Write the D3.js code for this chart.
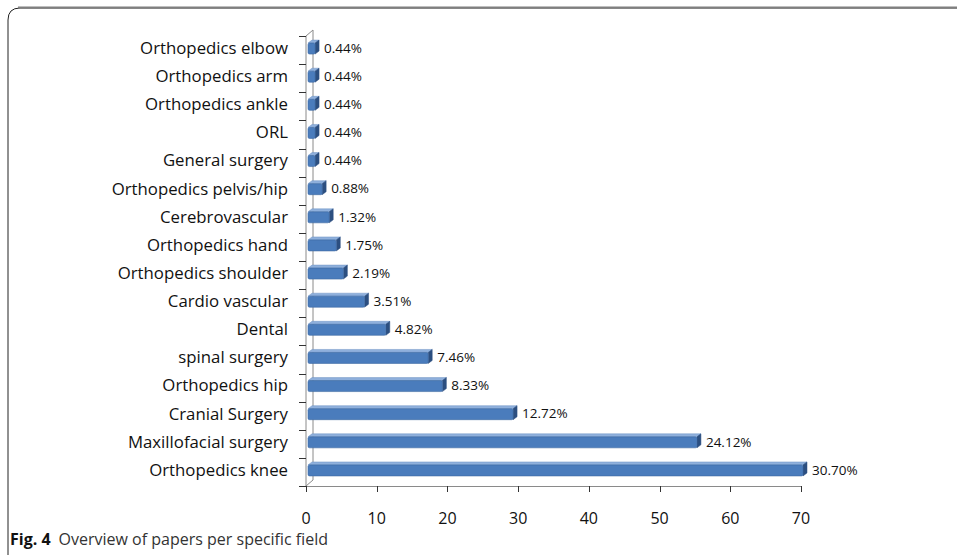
<!DOCTYPE html>
<html>
<head>
<meta charset="utf-8">
<script src="https://cdnjs.cloudflare.com/ajax/libs/d3/7.8.5/d3.min.js"></script>
<style>
  body { margin: 0; background: #fff; }
  svg { display: block; }
</style>
</head>
<body>
<svg id="chart" width="957" height="555"></svg>
<script>
// data, top row first
var categories = ["Orthopedics elbow", "Orthopedics arm", "Orthopedics ankle", "ORL", "General surgery",
  "Orthopedics pelvis/hip", "Cerebrovascular", "Orthopedics hand", "Orthopedics shoulder", "Cardio vascular",
  "Dental", "spinal surgery", "Orthopedics hip", "Cranial Surgery", "Maxillofacial surgery", "Orthopedics knee"];
var counts = [1, 1, 1, 1, 1, 2, 3, 4, 5, 8, 11, 17, 19, 29, 55, 70];
var percentLabels = ["0.44%", "0.44%", "0.44%", "0.44%", "0.44%", "0.88%", "1.32%", "1.75%", "2.19%",
  "3.51%", "4.82%", "7.46%", "8.33%", "12.72%", "24.12%", "30.70%"];
var xTicks = [0, 10, 20, 30, 40, 50, 60, 70];

var svg = d3.select("#chart");

// figure frame
svg.append("path")
  .attr("d", "M8,555 L8,20 Q8,8 20,8 L957,8")
  .attr("fill", "none").attr("stroke", "#222").attr("stroke-width", 1);
svg.append("line")
  .attr("x1", 18).attr("x2", 957).attr("y1", 7.5).attr("y2", 7.5)
  .attr("stroke", "#7f7f7f").attr("stroke-width", 2);

var x = d3.scaleLinear().domain([0, 70]).range([306, 801]);
var y = d3.scaleBand().domain(categories).range([36, 486]);

var dx = 7, dy = 6;   // depth of the 3d wall
var axisCol = "#8a8a8a";

// back wall
var g3 = svg.append("g");
g3.append("line").attr("x1", x(0) + dx).attr("x2", x(0) + dx)
  .attr("y1", 36 - dy).attr("y2", 486 - dy).attr("stroke", axisCol);
g3.append("line").attr("x1", x(0)).attr("x2", x(0) + dx)
  .attr("y1", 36).attr("y2", 36 - dy).attr("stroke", axisCol);
g3.append("line").attr("x1", x(0)).attr("x2", x(0) + dx)
  .attr("y1", 486).attr("y2", 486 - dy).attr("stroke", axisCol);

// y axis (ticks at band edges)
var yAx = svg.append("g");
yAx.append("line").attr("x1", x(0)).attr("x2", x(0)).attr("y1", 36).attr("y2", 486).attr("stroke", axisCol);
yAx.selectAll("line.tk")
  .data(d3.range(categories.length + 1))
  .enter().append("line")
  .attr("class", "tk")
  .attr("x1", x(0) - 7).attr("x2", x(0))
  .attr("y1", function(i) { return Math.round(36 + i * y.step()) + 0.5; })
  .attr("y2", function(i) { return Math.round(36 + i * y.step()) + 0.5; })
  .attr("stroke", "#333");

yAx.selectAll("text")
  .data(categories)
  .enter().append("text")
  .attr("x", 288)
  .attr("y", function(d) { return y(d) + y.bandwidth() / 2 - 2; })
  .attr("dy", "0.35em")
  .attr("text-anchor", "end")
  .style("font", "16.8px 'Open Sans', sans-serif")
  .attr("fill", "#111")
  .text(function(d) { return d; });

// x axis
var xAx = svg.append("g");
xAx.append("line").attr("x1", x(0)).attr("x2", x(70)).attr("y1", 486.5).attr("y2", 486.5).attr("stroke", axisCol);
xAx.selectAll("line.tk")
  .data(xTicks)
  .enter().append("line")
  .attr("class", "tk")
  .attr("x1", function(d) { return Math.round(x(d)) + 0.5; })
  .attr("x2", function(d) { return Math.round(x(d)) + 0.5; })
  .attr("y1", 486).attr("y2", 492)
  .attr("stroke", "#333");
xAx.selectAll("text")
  .data(xTicks)
  .enter().append("text")
  .attr("x", function(d) { return x(d); })
  .attr("y", 524)
  .attr("text-anchor", "middle")
  .style("font", "16px 'Open Sans', sans-serif")
  .attr("fill", "#111")
  .text(function(d) { return d; });

// 3d bars
var barH = 11, side = 4, lift = 3, shift = 2;
var bars = svg.append("g").selectAll("g")
  .data(categories)
  .enter().append("g");

bars.each(function(d, i) {
  var g = d3.select(this);
  var x0 = x(0) + shift, x1 = x(counts[i]) + shift;
  var yc = y(d) + y.bandwidth() / 2 - 3;
  var y0 = yc - barH / 2 + lift / 2, y1 = y0 + barH;
  // top face
  g.append("path")
    .attr("d", "M" + x0 + "," + y0 + " L" + (x0 + side) + "," + (y0 - lift) + " L" + (x1 + side) + "," + (y0 - lift) + " L" + x1 + "," + y0 + "Z")
    .attr("fill", "#8fb0dc").attr("stroke", "#6f93c4").attr("stroke-width", 0.5);
  // side face
  g.append("path")
    .attr("d", "M" + x1 + "," + y0 + " L" + (x1 + side) + "," + (y0 - lift) + " L" + (x1 + side) + "," + (y1 - lift) + " L" + x1 + "," + y1 + "Z")
    .attr("fill", "#2c4f80").attr("stroke", "#2c4f80").attr("stroke-width", 0.5);
  // front face
  g.append("rect")
    .attr("x", x0).attr("y", y0)
    .attr("width", x1 - x0).attr("height", barH)
    .attr("rx", 1.5)
    .attr("fill", "#4a7cbc").attr("stroke", "#3e6aa3").attr("stroke-width", 0.6);
  // value label
  g.append("text")
    .attr("x", x1 + side + 5)
    .attr("y", yc + 1)
    .attr("dy", "0.35em")
    .style("font", "13.5px 'Open Sans', sans-serif")
    .attr("fill", "#111")
    .text(percentLabels[i]);
});

// caption
var cap = svg.append("text").attr("x", 10).attr("y", 545)
  .style("font", "16px 'Open Sans', sans-serif");
cap.append("tspan").style("font-weight", "bold").attr("fill", "#111").text("Fig. 4");
cap.append("tspan").attr("dx", 8).attr("fill", "#333").text("Overview of papers per specific field");
</script>
</body>
</html>
